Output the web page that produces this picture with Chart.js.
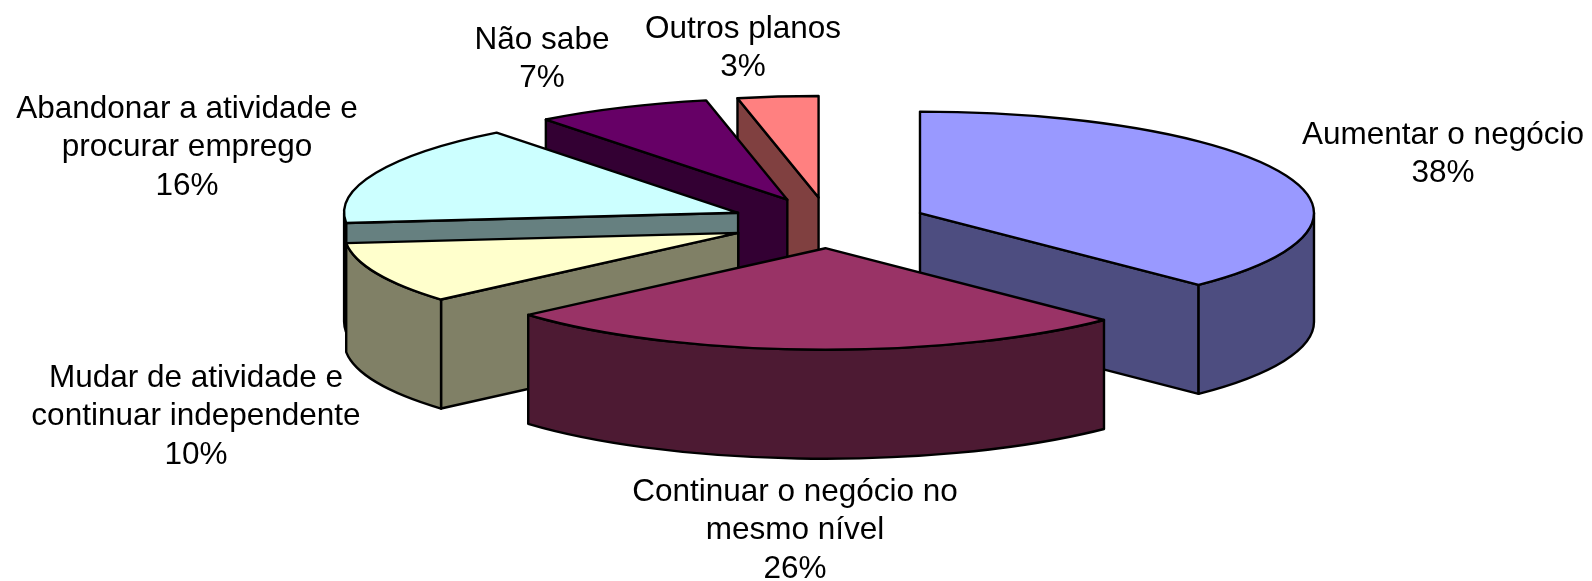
<!DOCTYPE html>
<html>
<head>
<meta charset="utf-8">
<title>Planos</title>
<script src="https://cdn.jsdelivr.net/npm/chart.js@4/dist/chart.umd.js"></script>
<style>
  html, body { margin: 0; padding: 0; background: #fff; }
  canvas { display: block; }
</style>
</head>
<body>
<canvas id="myChart" width="1592" height="581"></canvas>
<script>
const categories = [
  ['Aumentar o negócio'],
  ['Continuar o negócio no', 'mesmo nível'],
  ['Mudar de atividade e', 'continuar independente'],
  ['Abandonar a atividade e', 'procurar emprego'],
  ['Não sabe'],
  ['Outros planos']
];
const percentages = [37.5, 26.1, 9.8, 16.1, 7.2, 3.3];
const topColors = ['#9999ff', '#993366', '#ffffcc', '#ccffff', '#660066', '#ff8080'];
const sideColors = ['#4d4d80', '#4d1a33', '#808066', '#668080', '#330033', '#804040'];

// label centres (first line), same order as categories
const labelSpots = [
  [1443, 135], [795, 492], [196, 378], [187, 109], [542, 40], [743, 29]
];

const squash = 0.2576;    // ellipse height / width
const explode = 98.7;     // how far each slice is pulled out
const depth = 109;        // height of the pie wall
const drawOrder = [5, 4, 3, 2, 0, 1];  // back to front

function drawSlice(ctx, arc, i) {
  const mid = (arc.startAngle + arc.endAngle) / 2;
  const ax = arc.x + Math.cos(mid) * explode;
  const ay = arc.y + Math.sin(mid) * explode * squash;
  const r = arc.outerRadius;
  const a = arc.startAngle;
  const b = arc.endAngle;

  ctx.save();
  ctx.lineWidth = 2.4;
  ctx.lineJoin = 'round';
  ctx.strokeStyle = '#000';
  ctx.fillStyle = sideColors[i];

  // cut faces, only when they look at the viewer
  [[a, Math.cos(a) < -1e-6], [b, Math.cos(b) > 1e-6]].forEach(face => {
    if (!face[1]) return;
    const rx = ax + Math.cos(face[0]) * r;
    const ry = ay + Math.sin(face[0]) * r * squash;
    ctx.beginPath();
    ctx.moveTo(ax, ay);
    ctx.lineTo(rx, ry);
    ctx.lineTo(rx, ry + depth);
    ctx.lineTo(ax, ay + depth);
    ctx.closePath();
    ctx.fill();
    ctx.stroke();
  });

  // outer wall, front half of the ellipse only
  for (let turn = -2; turn <= 2; turn++) {
    const from = Math.max(a, turn * Math.PI * 2);
    const to = Math.min(b, turn * Math.PI * 2 + Math.PI);
    if (to <= from) continue;
    ctx.beginPath();
    ctx.ellipse(ax, ay, r, r * squash, 0, from, to);
    ctx.ellipse(ax, ay + depth, r, r * squash, 0, to, from, true);
    ctx.closePath();
    ctx.fill();
    ctx.stroke();
  }

  // top face: the library's own arc, flattened
  ctx.save();
  ctx.translate(ax, ay);
  ctx.scale(1, squash);
  ctx.translate(-arc.x, -arc.y);
  arc.draw(ctx);
  ctx.restore();

  ctx.beginPath();
  ctx.moveTo(ax, ay);
  ctx.ellipse(ax, ay, r, r * squash, 0, a, b);
  ctx.closePath();
  ctx.stroke();
  ctx.restore();
}

const pie3d = {
  id: 'pie3d',
  beforeDatasetDraw(chart, args) {
    const arcs = chart.getDatasetMeta(args.index).data;
    drawOrder.forEach(i => drawSlice(chart.ctx, arcs[i], i));
    return false;
  },
  afterDraw(chart) {
    const ctx = chart.ctx;
    ctx.save();
    ctx.fillStyle = '#000';
    ctx.font = '31.5px "Liberation Sans", Arial, sans-serif';
    ctx.textAlign = 'center';
    ctx.textBaseline = 'middle';
    categories.forEach((lines, i) => {
      const text = lines.concat(Math.round(percentages[i]) + '%');
      text.forEach((line, n) => {
        ctx.fillText(line, labelSpots[i][0], labelSpots[i][1] + n * 38.5);
      });
    });
    ctx.restore();
  }
};

new Chart(document.getElementById('myChart'), {
  type: 'pie',
  data: {
    labels: categories,
    datasets: [{
      data: percentages,
      backgroundColor: topColors,
      borderWidth: 0
    }]
  },
  options: {
    responsive: false,
    animation: false,
    radius: 394,
    layout: { padding: { left: 65.6, bottom: 135.4 } },
    plugins: {
      legend: { display: false },
      tooltip: { enabled: false }
    }
  },
  plugins: [pie3d]
});
</script>
</body>
</html>
